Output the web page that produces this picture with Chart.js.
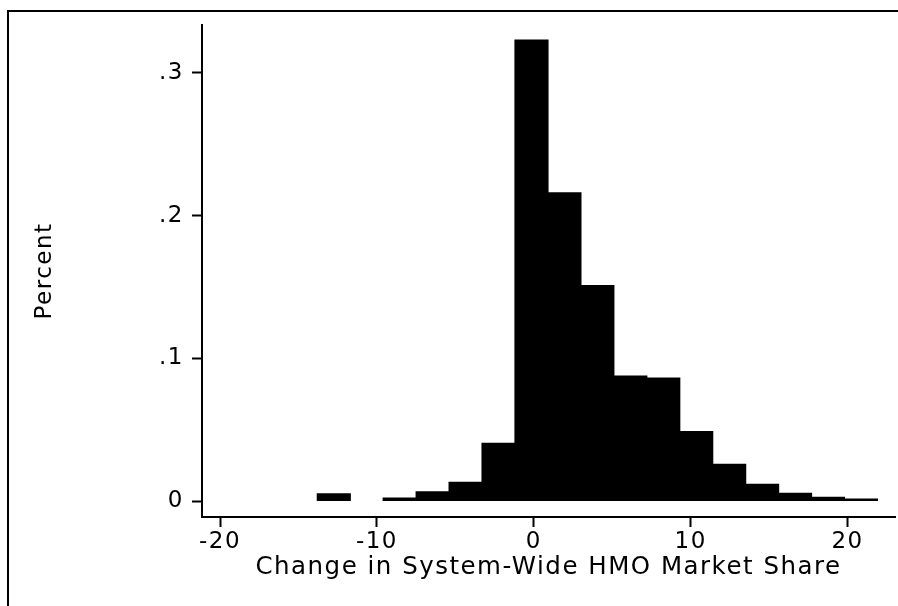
<!DOCTYPE html>
<html>
<head>
<meta charset="utf-8">
<script src="https://cdn.jsdelivr.net/npm/chart.js@4.4.1/dist/chart.umd.min.js"></script>
<style>
  html, body { margin: 0; padding: 0; background: #fff; overflow: hidden; }
  #wrap { position: relative; width: 898px; height: 606px; overflow: hidden; }
  #frame {
    position: absolute; left: 7px; top: 10px; width: 1400px; height: 1400px;
    border-left: 2px solid #000; border-top: 2px solid #000;
  }
  #histo { position: absolute; left: 0; top: 0; }
</style>
</head>
<body>
<div id="wrap">
  <div id="frame"></div>
  <canvas id="histo" width="898" height="606"></canvas>
</div>
<script>
// bin midpoints (bin width 2.1) and share of systems in each bin
const binCenters = [-12.75, -10.65, -8.55, -6.45, -4.35, -2.25, -0.15, 1.95, 4.05,
                    6.15, 8.25, 10.35, 12.45, 14.55, 16.65, 18.75, 20.85];
const percent = [0.005, null, 0.002, 0.0065, 0.013, 0.0404, 0.323, 0.216, 0.151,
                 0.0876, 0.0862, 0.0486, 0.0257, 0.0117, 0.0054, 0.0026, 0.0012];

const xTicks = [-20, -10, 0, 10, 20];
const yTicks = [0, 0.1, 0.2, 0.3];
const yTickLabels = ['0', '.1', '.2', '.3'];

const FONT = 'DejaVu Sans';

// the original lettering is wide, so open the glyphs up a little
const wideText = {
  id: 'wideText',
  beforeLayout(chart) { chart.ctx.letterSpacing = '1.5px'; },
  beforeDraw(chart) { chart.ctx.letterSpacing = '1.5px'; }
};

const ctx = document.getElementById('histo').getContext('2d');

new Chart(ctx, {
  type: 'bar',
  data: {
    datasets: [{
      data: binCenters.map((x, i) => ({ x: x, y: percent[i] })),
      backgroundColor: '#000',
      borderColor: '#000',
      borderWidth: 0,
      inflateAmount: 0.6,
      minBarLength: 2,
      barPercentage: 1,
      categoryPercentage: 1
    }]
  },
  options: {
    responsive: false,
    animation: false,
    layout: { padding: { left: 0, top: 25, right: 3, bottom: 0 } },
    plugins: {
      legend: { display: false },
      tooltip: { enabled: false }
    },
    scales: {
      x: {
        type: 'linear',
        offset: false,
        min: -21.15,
        max: 23.02,
        afterBuildTicks: s => { s.ticks = xTicks.map(v => ({ value: v })); },
        afterFit: s => { s.height = 89; },
        grid: { offset: false, drawOnChartArea: false, drawTicks: true, tickLength: 10, tickWidth: 2, tickColor: '#000' },
        border: { display: true, color: '#000', width: 2 },
        ticks: {
          color: '#000', padding: 1, maxRotation: 0, autoSkip: false,
          font: { family: FONT, size: 23 },
          callback: v => String(v)
        },
        title: {
          display: true,
          text: 'Change in System-Wide HMO Market Share',
          color: '#000',
          font: { family: FONT, size: 24.5 },
          padding: { top: 0, bottom: 24 }
        }
      },
      y: {
        min: -0.0112,
        max: 0.3336,
        afterBuildTicks: s => { s.ticks = yTicks.map(v => ({ value: v })); },
        afterFit: s => { s.width = 202; },
        grid: { drawOnChartArea: false, drawTicks: true, tickLength: 10, tickWidth: 2, tickColor: '#000' },
        border: { display: true, color: '#000', width: 2 },
        ticks: {
          color: '#000', padding: 8,
          font: { family: FONT, size: 23 },
          callback: (v, i) => yTickLabels[i]
        },
        title: {
          display: true,
          text: 'Percent',
          color: '#000',
          font: { family: FONT, size: 23 },
          padding: { top: 31, bottom: 0 }
        }
      }
    }
  },
  plugins: [wideText]
});
</script>
</body>
</html>
